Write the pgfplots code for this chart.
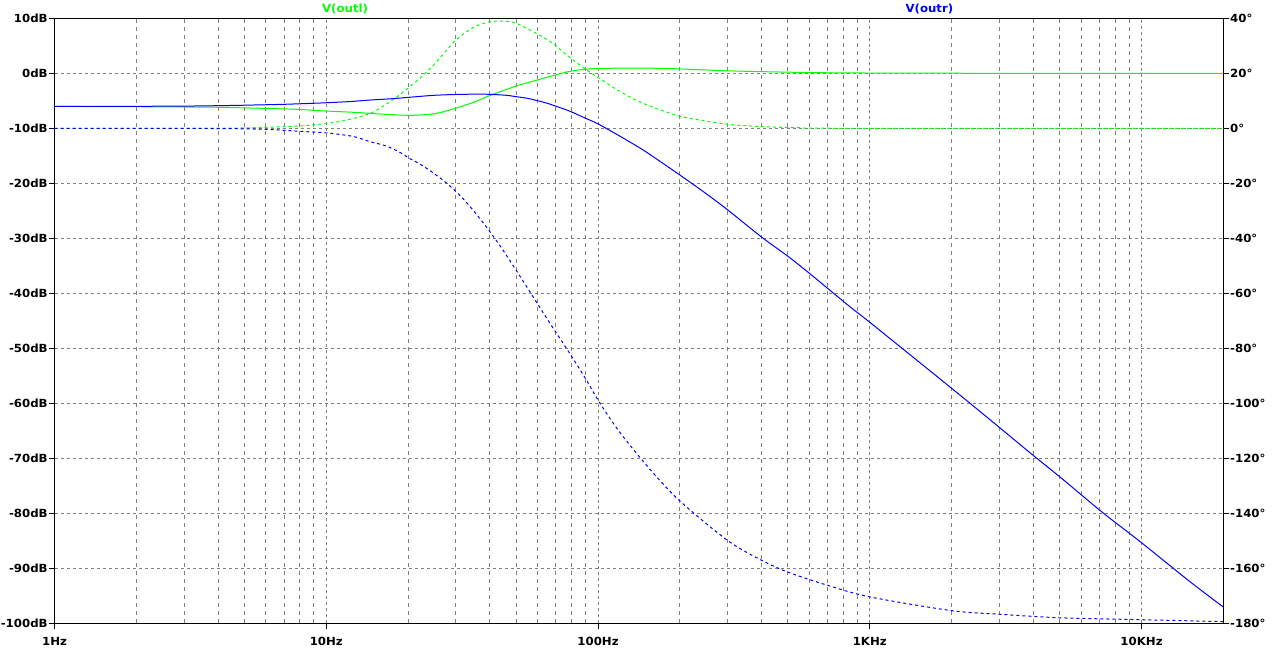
\documentclass[border=0pt]{standalone}
\usepackage{fontspec}
\newfontfamily\ltfont[FakeStretch=1.05]{DejaVu Sans}
\usepackage{pgfplots}
\usepackage{pgfplotstable}
\pgfplotsset{compat=1.18}

\definecolor{ltgreen}{RGB}{0,255,0}
\definecolor{ltblue}{RGB}{0,0,255}
\definecolor{ltgrid}{RGB}{128,128,128}

% V(outl) magnitude (dB)
\pgfplotstableread{
f v
1 -6.02
2 -6.08
3 -6.13
4 -6.18
5.7 -6.36
7.8 -6.55
9.4 -6.8
12.6 -7.1
15.7 -7.4
19.2 -7.62
21.5 -7.62
24.1 -7.45
26.2 -7.16
29.9 -6.36
34.9 -5.27
39.9 -4.07
50 -2.31
59.8 -1.22
69.6 -0.31
80 0.42
90 0.73
100 0.88
135 0.95
170 0.9
200 0.8
250 0.6
300 0.45
400 0.3
636 0.12
1000 0.05
2000 0.01
20000 0
}\magl

% V(outl) phase (deg)
\pgfplotstableread{
f v
1 0
4 0.02
6 0.36
8 0.84
10.3 1.9
11.9 3.0
13.6 4.5
14.9 5.9
16.7 8.9
18.6 12.1
22.1 18.2
24.8 23.0
27.5 28.0
29.9 32.0
32.8 35.1
35.6 37.2
39.9 38.7
43.5 39.0
47.4 38.8
50 38.2
54.6 36.4
59.3 34.5
64.6 32.4
69.6 30.3
76.6 26.7
85.7 23.0
89.6 21.6
100 18.5
113.6 14.9
134.7 10.7
164 7.2
200 4.4
237 3.0
300 1.45
400 0.6
550 0.2
800 0
20000 0
}\phsl

% V(outr) magnitude (dB)
\pgfplotstableread{
f v
1 -6.02
2 -6.0
3 -5.97
4.5 -5.85
5.5 -5.76
7 -5.64
9 -5.45
10.6 -5.3
12.6 -5.1
14.1 -4.9
17.7 -4.6
21.5 -4.25
25 -4.0
30 -3.85
35 -3.8
40 -3.82
42.3 -3.89
46 -4.0
50 -4.25
55 -4.55
59.8 -4.98
65 -5.45
69.6 -5.95
75 -6.5
80 -7.04
90 -8.18
100 -9.2
120 -11.4
146 -13.9
170 -16.1
200 -18.5
250 -21.9
300 -24.85
400 -29.8
500 -33.3
600 -36.4
842 -42.4
1000 -45.3
2000 -57.3
2767 -63.0
3970 -69.4
5000 -73.4
7190 -79.9
10000 -85.4
15000 -92.4
20000 -97.1
}\magr

% V(outr) phase (deg)
\pgfplotstableread{
f v
1 0
4 -0.1
6 -0.4
7.4 -0.9
9 -1.4
10.3 -1.8
12.6 -3.0
14.5 -4.9
16.2 -6.1
17.7 -7.6
19.2 -9.45
20 -10.7
22.1 -13.0
24.4 -15.8
26.9 -18.9
28.5 -21.0
30 -23.0
32.4 -26.4
35.1 -30.4
38 -34.7
39.8 -37.3
41.1 -39.2
44.6 -44.2
50 -51.7
56.5 -59.9
65 -69.4
77.6 -81
89.6 -90.8
100.6 -99.3
120 -110.5
155 -124
200 -135.6
300 -150
400 -157.2
500 -161.5
700 -166.3
1000 -170.5
2000 -175.5
3000 -176.8
5000 -178.1
10000 -178.8
20000 -179.5
}\phsr

\newcommand\ltf{\ltfont\bfseries\fontsize{8.4}{10}\selectfont}

\begin{document}
\begin{tikzpicture}
\begin{axis}[
  scale only axis, width=876.6pt, height=453.5pt,
  xmode=log, xmin=1, xmax=20000,
  ymin=-100, ymax=10,
  clip mode=individual,
  tick align=outside, major tick length=4.5pt, minor tick length=0pt,
  tick style={black, line width=0.75pt},
  axis line style={black, line width=0.75pt},
  tick label style={font=\ltf},
  ytick={-100,-90,-80,-70,-60,-50,-40,-30,-20,-10,0,10},
  yticklabels={-100dB,-90dB,-80dB,-70dB,-60dB,-50dB,-40dB,-30dB,-20dB,-10dB,0dB,10dB},
  xtick={1,10,100,1000,10000},
  xticklabels={1Hz,10Hz,100Hz,1KHz,10KHz},
  minor xtick={2,3,4,5,6,7,8,9,20,30,40,50,60,70,80,90,200,300,400,500,600,700,800,900,2000,3000,4000,5000,6000,7000,8000,9000},
  xtick pos=bottom, ytick pos=left,
  grid=both,
  major grid style={ltgrid, line width=0.75pt, dash pattern=on 2.25pt off 2.25pt},
  minor grid style={ltgrid, line width=0.75pt, dash pattern=on 3pt off 3pt},
  yticklabel style={anchor=east, inner sep=0pt, xshift=-0.5pt},
  xticklabel style={anchor=north, inner sep=0pt, yshift=-6pt},
]
\addplot[ltgreen, line width=0.75pt, smooth] table[x=f, y=v] {\magl};
\addplot[ltblue, line width=0.75pt, smooth] table[x=f, y=v] {\magr};
\node[text=ltgreen, font=\ltf] at (rel axis cs:0.2486,1) [yshift=7pt] {V(outl)};
\node[text=ltblue, font=\ltf] at (rel axis cs:0.7485,1) [yshift=7pt] {V(outr)};
\end{axis}
\begin{axis}[
  scale only axis, width=876.6pt, height=453.5pt,
  xmode=log, xmin=1, xmax=20000,
  ymin=-180, ymax=40,
  tick align=outside, major tick length=4.5pt, minor tick length=0pt,
  tick style={black, line width=0.75pt},
  axis line style={black, line width=0.75pt},
  tick label style={font=\ltf},
  ytick={-180,-160,-140,-120,-100,-80,-60,-40,-20,0,20,40},
  yticklabels={-180°,-160°,-140°,-120°,-100°,-80°,-60°,-40°,-20°,0°,20°,40°},
  axis y line*=right, hide x axis,
  yticklabel style={anchor=west, inner sep=0pt, xshift=0.5pt},
]
\addplot[ltgreen, line width=0.75pt, smooth, dash pattern=on 2.25pt off 2.25pt] table[x=f, y=v] {\phsl};
\addplot[ltblue, line width=0.75pt, smooth, dash pattern=on 2.25pt off 2.25pt] table[x=f, y=v] {\phsr};
\end{axis}
\pgfresetboundingbox
\path ([shift={(-40.9pt,-20.25pt)}]current axis.south west) rectangle ([shift={(36.5pt,13.75pt)}]current axis.north east);
\end{tikzpicture}
\end{document}
